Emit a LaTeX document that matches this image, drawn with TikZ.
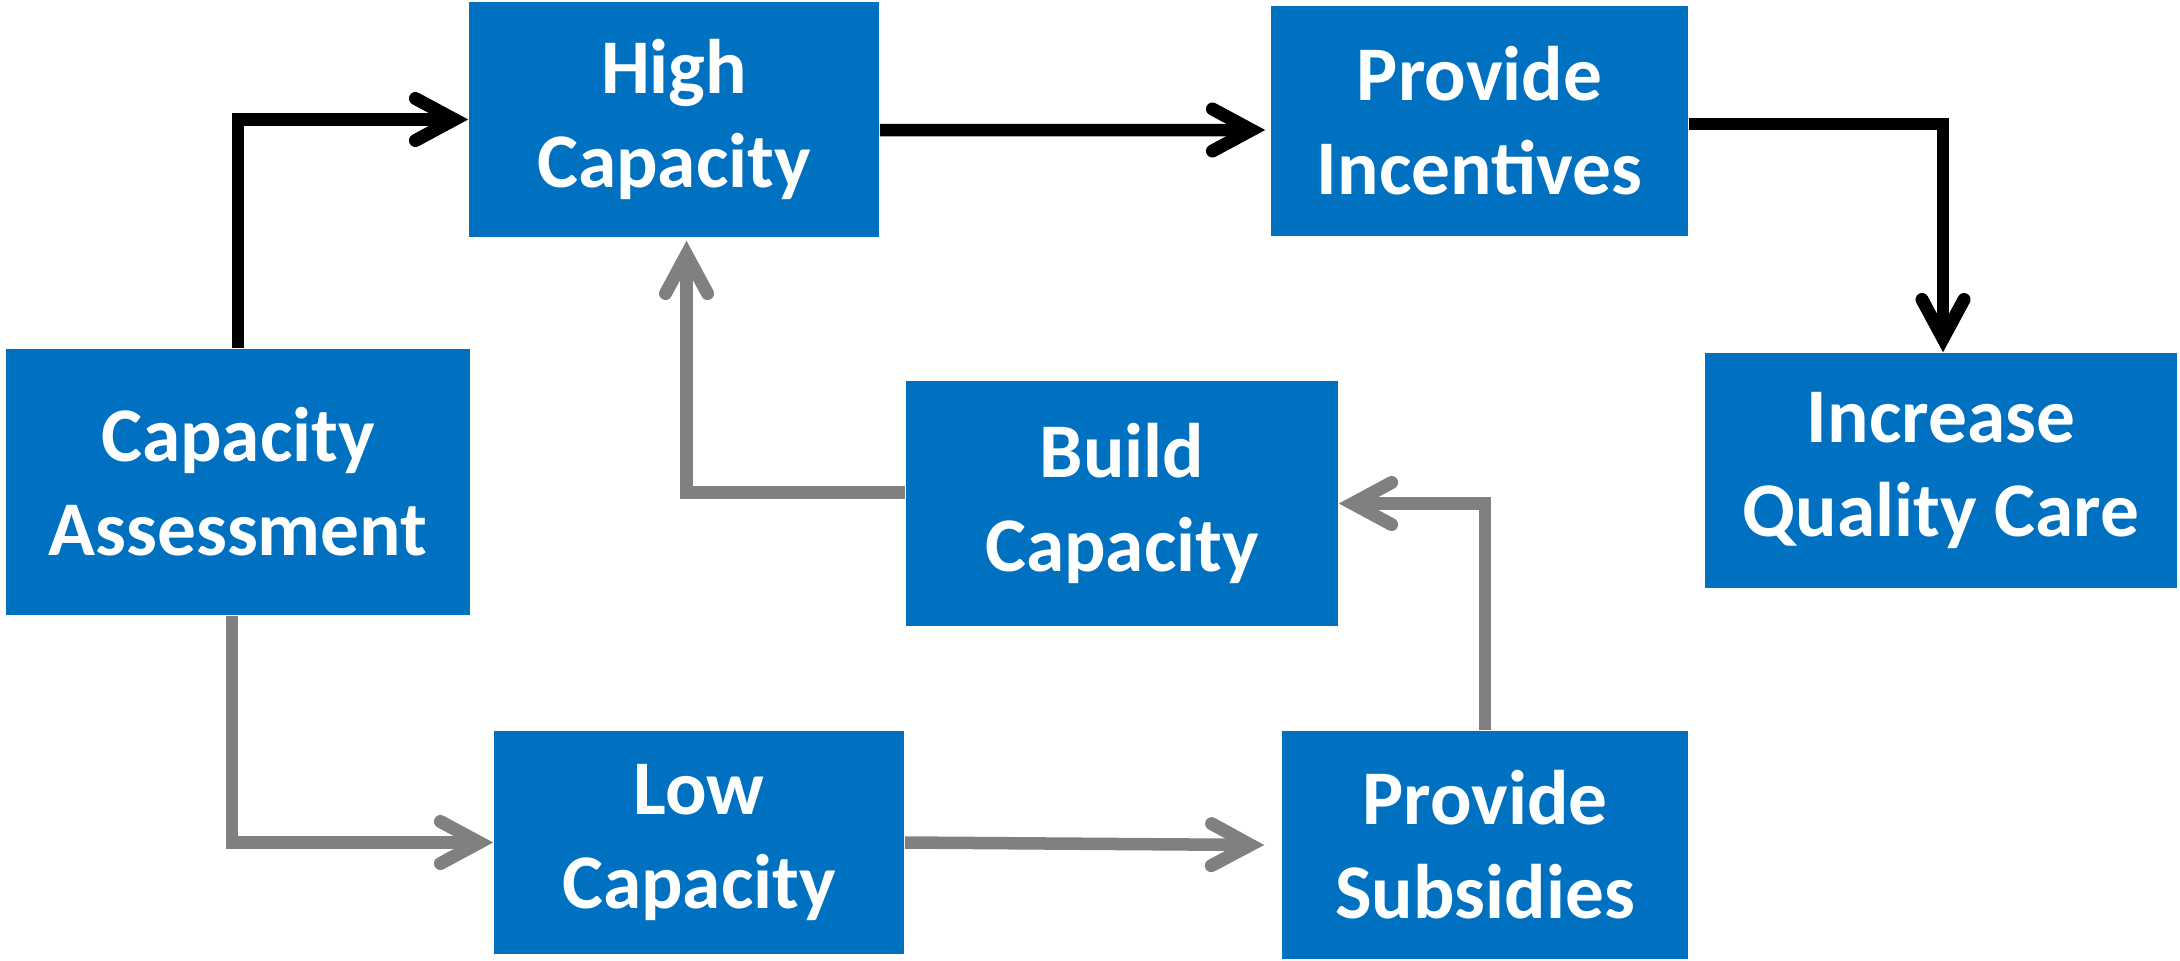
\documentclass[tikz,border=0pt]{standalone}
\usepackage{fontspec}
\setmainfont{Carlito}
\usetikzlibrary{arrows.meta}
\definecolor{boxblue}{HTML}{0070C0}
\definecolor{arrgray}{HTML}{808080}
\tikzset{
  box/.style={rectangle, fill=boxblue, draw=none, text=white, align=center,
    inner sep=0pt, font=\fontsize{22}{26.7}\selectfont\bfseries},
  conn/.style={line width=0.125cm, -{Straight Barb[length=0.39cm, width=0.42cm, line width'=0.13cm, line cap=round]}},
  blk/.style={conn, draw=black},
  gry/.style={conn, draw=arrgray}
}
\begin{document}
\begin{tikzpicture}[x=0.01cm, y=-0.01cm]
\useasboundingbox (0,0) rectangle (2180,960);
\node[box, minimum width=4.10cm, minimum height=2.35cm] (hc) at (674,119.5) {High\\Capacity};
\node[box, minimum width=4.17cm, minimum height=2.30cm] (pi) at (1479.5,121) {Provide\\Incentives};
\node[box, minimum width=4.72cm, minimum height=2.35cm] (iqc) at (1941,470.5) {Increase\\Quality Care};
\node[box, minimum width=4.64cm, minimum height=2.66cm] (ca) at (238,482) {Capacity\\Assessment};
\node[box, minimum width=4.32cm, minimum height=2.45cm] (bc) at (1122,503.5) {Build\\Capacity};
\node[box, minimum width=4.10cm, minimum height=2.23cm] (lc) at (699,842.5) {Low\\Capacity};
\node[box, minimum width=4.06cm, minimum height=2.28cm] (ps) at (1485,845) {Provide\\Subsidies};

\draw[blk] (ca) |- (hc);
\draw[blk] ([yshift=-0.105cm]hc.east) -- ([xshift=-0.05cm,yshift=-0.09cm]pi.west);
\draw[blk] ([yshift=-0.03cm]pi.east) -| ([xshift=0.02cm]iqc.north);
\draw[gry] ([xshift=-0.06cm]ca.south) |- (lc);
\draw[gry] (lc.east) -- ([xshift=-0.17cm]ps.west);
\draw[gry] (ps) |- (bc);
\draw[gry] ([yshift=0.11cm]bc.west) -| ([xshift=0.125cm,yshift=-0.03cm]hc.south);
\end{tikzpicture}
\end{document}
